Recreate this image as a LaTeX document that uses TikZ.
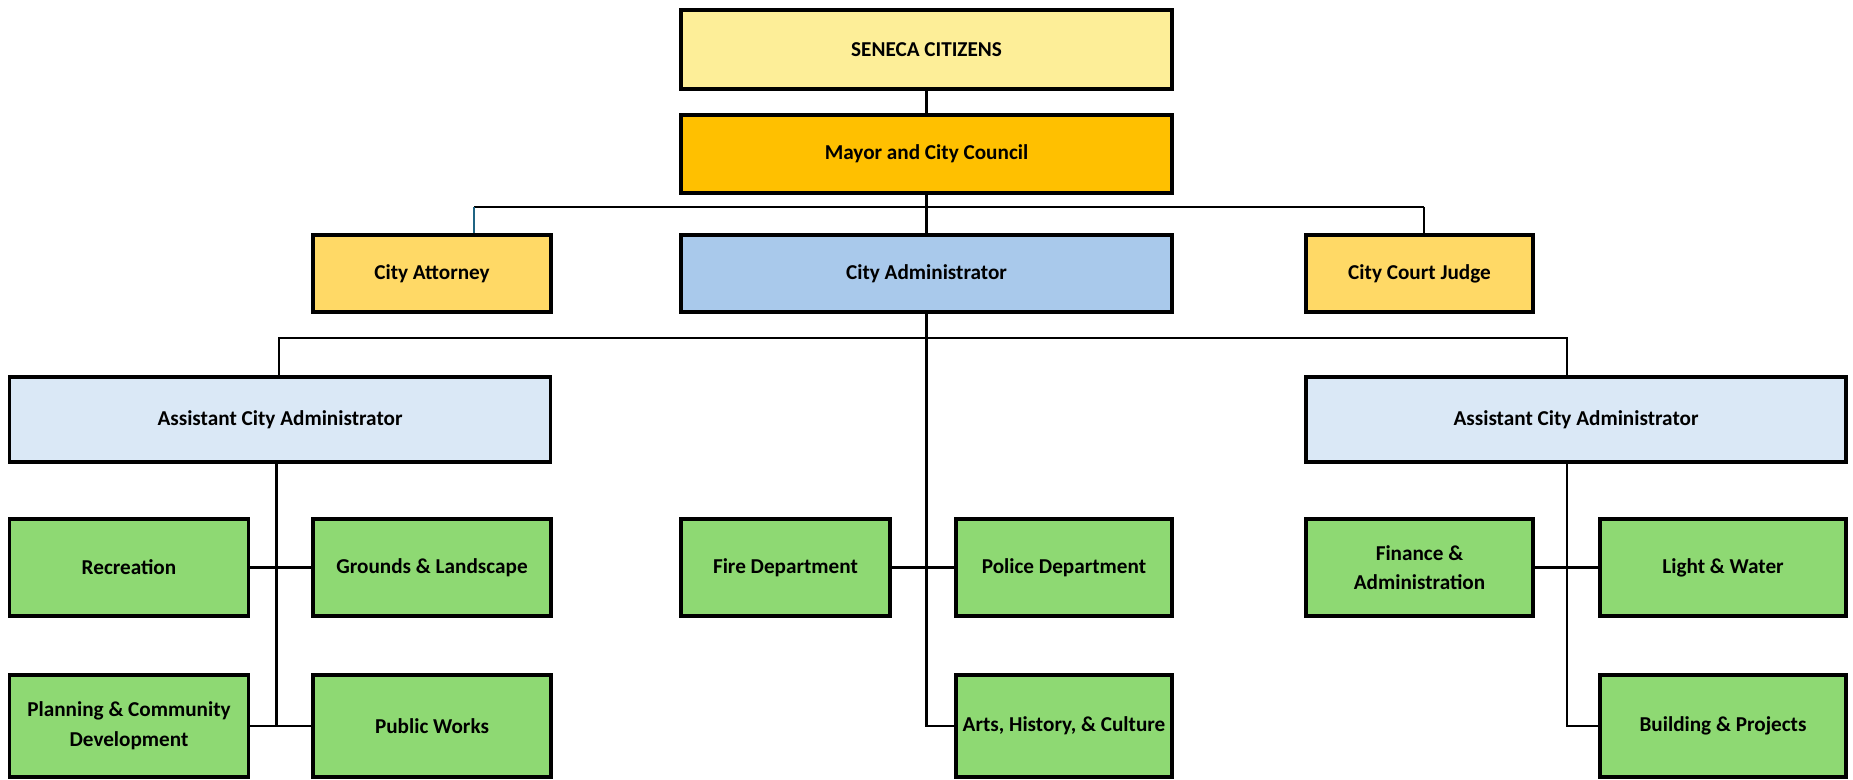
\documentclass[tikz,border=0pt]{standalone}
\usepackage{fontspec}
\setmainfont{Carlito}
\definecolor{cSen}{HTML}{FDEE98}
\definecolor{cMay}{HTML}{FFC000}
\definecolor{cGold}{HTML}{FFD966}
\definecolor{cAdm}{HTML}{A9C9EB}
\definecolor{cAst}{HTML}{DAE8F6}
\definecolor{cGrn}{HTML}{8ED973}
\definecolor{cTeal}{HTML}{1F6483}
\begin{document}
\begin{tikzpicture}[x=0.5pt,y=-0.5pt,
  box/.style={draw=black, line width=1.6pt, rectangle, inner sep=0pt, align=center,
    font=\fontsize{10.6}{14.8}\selectfont\bfseries, text=black},
  conn/.style={draw=black, line width=1.15pt},
  tealc/.style={draw=cTeal, line width=1.15pt}]
\useasboundingbox (0,0) rectangle (1853,780);
% boxes
\node[box, fill=cSen, minimum width=245.5pt, minimum height=39.5pt] (sen) at (926.5,49.5) {SENECA CITIZENS};
\node[box, fill=cMay, minimum width=245.5pt, minimum height=39pt] (may) at (926.5,154) {Mayor and City Council};
\node[box, fill=cGold, minimum width=119pt, minimum height=38.5pt] (att) at (432,273.5) {City Attorney};
\node[box, fill=cAdm, minimum width=245.5pt, minimum height=38.5pt] (adm) at (926.5,273.5) {City Administrator};
\node[box, fill=cGold, minimum width=113.5pt, minimum height=38.5pt] (jud) at (1419.5,273.5) {City Court Judge};
\node[box, fill=cAst, minimum width=270.5pt, minimum height=42.5pt] (asl) at (280,419.5) {Assistant City Administrator};
\node[box, fill=cAst, minimum width=270pt, minimum height=42.5pt] (asr) at (1576,419.5) {Assistant City Administrator};
\node[box, fill=cGrn, minimum width=119.5pt, minimum height=48.5pt] (rec) at (129,567.5) {Recreation};
\node[box, fill=cGrn, minimum width=119pt, minimum height=48.5pt] (gro) at (432,567.5) {Grounds \& Landscape};
\node[box, fill=cGrn, minimum width=119.5pt, minimum height=51pt] (pla) at (129,726) {Planning \& Community\\Development};
\node[box, fill=cGrn, minimum width=119pt, minimum height=51pt] (pub) at (432,726) {Public Works};
\node[box, fill=cGrn, minimum width=104.5pt, minimum height=48.5pt] (fir) at (785.5,567.5) {Fire Department};
\node[box, fill=cGrn, minimum width=108pt, minimum height=48.5pt] (pol) at (1064,567.5) {Police Department};
\node[box, fill=cGrn, minimum width=108pt, minimum height=51pt] (art) at (1064,726) {Arts, History, \& Culture};
\node[box, fill=cGrn, minimum width=113.5pt, minimum height=48.5pt] (fin) at (1419.5,567.5) {Finance \&\\Administration};
\node[box, fill=cGrn, minimum width=123pt, minimum height=48.5pt] (lig) at (1723,567.5) {Light \& Water};
\node[box, fill=cGrn, minimum width=123pt, minimum height=51pt] (bld) at (1723,726) {Building \& Projects};
% bus coordinates
\coordinate (b1L) at (474,207);
\coordinate (b1R) at (1424,207);
\coordinate (b2L) at (279,338);
\coordinate (b2R) at (1567,338);
\coordinate (vL) at (276.5,462);
% connectors
\draw[conn] (sen.south) -- (may.north);
\draw[conn] (may.south) -- (adm.north);
\draw[conn] (b1L) -- (b1R);
\draw[tealc] (b1L) -- (att.north -| b1L);
\draw[conn] (b1R) -- (jud.north -| b1R);
\draw[conn] (asl.north -| b2L) -- (b2L) -- (b2R) -- (asr.north -| b2R);
\draw[conn] (adm.south) |- (art.west);
\draw[conn] (fir.east) -- (pol.west);
\draw[conn] (vL) -- (vL |- pla.east);
\draw[conn] (rec.east) -- (gro.west);
\draw[conn] (pla.east) -- (pub.west);
\draw[conn] (asr.south -| b2R) |- (bld.west);
\draw[conn] (fin.east) -- (lig.west);
\end{tikzpicture}
\end{document}
